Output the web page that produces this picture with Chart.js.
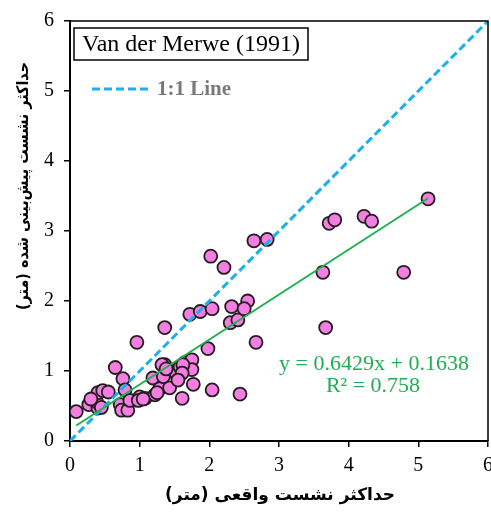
<!DOCTYPE html>
<html>
<head>
<meta charset="utf-8">
<script src="https://cdn.jsdelivr.net/npm/chart.js@4.4.1/dist/chart.umd.min.js"></script>
<style>
  body { margin: 0; background: #fff; }
  #wrap { width: 491px; height: 513px; }
</style>
</head>
<body>
<div id="wrap"><canvas id="myChart" width="491" height="513"></canvas></div>
<script>
// measured vs predicted settlement (m)
let measuredX = [0.09, 0.27, 0.40, 0.38, 0.40, 0.47, 0.55, 0.65, 0.76, 0.79, 0.72, 0.74, 0.83, 0.86, 0.96, 1.00, 1.08, 1.22, 1.19, 1.29,
    1.36, 1.36, 1.43, 1.43, 1.55, 1.61, 1.65, 1.75, 1.75, 1.77, 1.72, 1.87, 2.04, 1.98, 2.04, 2.30, 2.32, 2.44, 2.41, 2.55,
    2.50, 2.67, 2.02, 2.21, 2.64, 2.83, 3.72, 3.80, 4.22, 4.33, 5.14, 3.63, 4.79, 3.67, 1.51, 1.58, 1.34, 1.25, 1.62, 1.32,
    1.38, 1.61, 1.55, 0.98, 1.05, 0.45, 0.30]
let predictedY = [0.42, 0.52, 0.47, 0.56, 0.69, 0.72, 0.70, 1.05, 0.89, 0.73, 0.52, 0.44, 0.44, 0.58, 1.41, 0.63, 0.61, 0.66, 0.90, 0.75,
    1.62, 1.09, 1.00, 0.76, 0.90, 0.61, 1.12, 1.16, 1.02, 0.81, 1.81, 1.85, 1.89, 1.32, 0.73, 1.69, 1.92, 0.67, 1.73, 2.00,
    1.89, 1.41, 2.64, 2.48, 2.86, 2.88, 3.11, 3.16, 3.21, 3.14, 3.46, 2.41, 2.41, 1.62, 0.99, 1.06, 0.92, 0.69, 1.09, 1.09,
    1.03, 0.97, 0.87, 0.58, 0.60, 0.48, 0.60]
let axisTicks = [0, 1, 2, 3, 4, 5, 6]
let fitSlope = 0.6429, fitIntercept = 0.1638
let fitRange = [0.09, 5.14]
let oneToOne = [0, 6]

let scatterPoints = measuredX.map((x, i) => ({ x: x, y: predictedY[i] }))
let fitPoints = fitRange.map(x => ({ x: x, y: fitSlope * x + fitIntercept }))
let linePoints = oneToOne.map(v => ({ x: v, y: v }))

const serif = '"Liberation Serif", "Times New Roman", serif'

const decorations = {
    id: 'decorations',
    afterDatasetsDraw(chart) {
        const ctx = chart.ctx, a = chart.chartArea
        ctx.save()
        // frame on top and right
        ctx.strokeStyle = '#000'
        ctx.lineWidth = 1.5
        ctx.beginPath()
        ctx.moveTo(a.left, a.top)
        ctx.lineTo(a.right, a.top)
        ctx.lineTo(a.right, a.bottom)
        ctx.stroke()
        // title box
        ctx.fillStyle = '#fff'
        ctx.fillRect(74, 28, 234, 32)
        ctx.lineWidth = 1.5
        ctx.strokeRect(74, 28, 234, 32)
        ctx.fillStyle = '#000'
        ctx.font = '24px ' + serif
        ctx.textAlign = 'center'
        ctx.textBaseline = 'middle'
        ctx.fillText('Van der Merwe (1991)', 191, 45)
        // legend
        ctx.strokeStyle = '#1ab0ee'
        ctx.lineWidth = 3
        ctx.setLineDash([8, 4])
        ctx.beginPath()
        ctx.moveTo(92, 89)
        ctx.lineTo(150, 89)
        ctx.stroke()
        ctx.setLineDash([])
        ctx.fillStyle = '#7a7a7a'
        ctx.font = 'bold 21px ' + serif
        ctx.textAlign = 'left'
        ctx.fillText('1:1 Line', 157, 90)
        // equation
        ctx.fillStyle = '#1fae55'
        ctx.font = '22px ' + serif
        ctx.textAlign = 'center'
        ctx.fillText('y = 0.6429x + 0.1638', 374, 364)
        ctx.fillText('R² = 0.758', 373, 386)
        // axis titles
        ctx.fillStyle = '#000'
        ctx.direction = 'rtl'
        ctx.font = 'bold 17px "DejaVu Sans", sans-serif'
        ctx.fillText('حداکثر نشست واقعی (متر)', 280, 496)
        ctx.translate(24, 186)
        ctx.rotate(-Math.PI / 2)
        ctx.font = 'bold 16px "DejaVu Sans Condensed", "DejaVu Sans", sans-serif'
        ctx.fillText('حداکثر نشست پیش‌بینی شده (متر)', 0, 0)
        ctx.restore()
    }
}

new Chart(document.querySelector('#myChart'), {
    type: 'scatter',
    data: {
        datasets: [{
            label: 'fit',
            type: 'line',
            data: fitPoints,
            borderColor: '#1fb04f',
            borderWidth: 2,
            pointRadius: 0,
            order: 1
        }, {
            label: '1:1 Line',
            type: 'line',
            data: linePoints,
            borderColor: '#1ab0ee',
            borderWidth: 3,
            borderDash: [8, 4],
            pointRadius: 0,
            order: 2
        }, {
            label: 'data',
            data: scatterPoints,
            backgroundColor: '#f47ee2',
            borderColor: '#231f20',
            borderWidth: 1.8,
            pointRadius: 6.5,
            order: 3
        }]
    },
    options: {
        responsive: false,
        animation: false,
        layout: { autoPadding: false, padding: { top: 21, right: 3, left: 0, bottom: 0 } },
        plugins: { legend: { display: false }, tooltip: { enabled: false } },
        scales: {
            x: {
                type: 'linear', min: 0, max: 6,
                afterBuildTicks: s => { s.ticks = axisTicks.map(v => ({ value: v })) },
                afterFit: s => { s.height = 72; s.paddingLeft = 0; s.paddingRight = 0 },
                grid: { drawOnChartArea: false, drawTicks: true, tickLength: 6, color: '#000', lineWidth: 1.5 },
                border: { color: '#000', width: 2 },
                ticks: { color: '#000', padding: 7, font: { family: serif, size: 20 } }
            },
            y: {
                type: 'linear', min: 0, max: 6,
                afterBuildTicks: s => { s.ticks = axisTicks.map(v => ({ value: v })) },
                afterFit: s => { s.width = 70; s.paddingTop = 0; s.paddingBottom = 0 },
                grid: { drawOnChartArea: false, drawTicks: true, tickLength: 6, color: '#000', lineWidth: 1.5 },
                border: { color: '#000', width: 2 },
                ticks: { color: '#000', padding: 10, font: { family: serif, size: 20 } }
            }
        }
    },
    plugins: [decorations]
})
</script>
</body>
</html>
